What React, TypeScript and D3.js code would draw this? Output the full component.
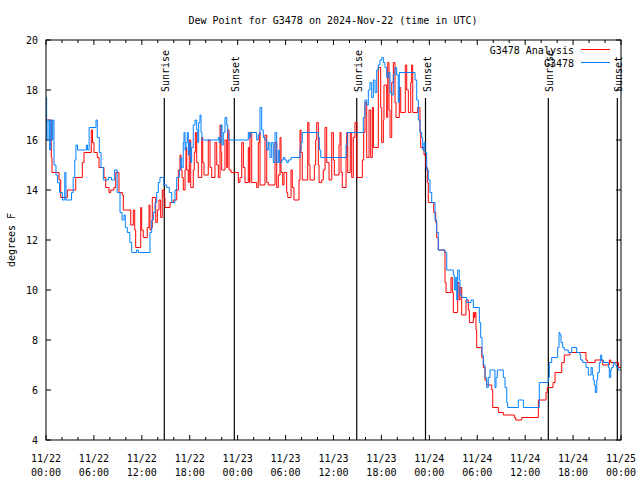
import React from "react";
import * as d3 from "d3";

const redHours = [
  0, 0.66, 0.75, 1.63, 1.84, 2.67, 3.72, 4.55, 4.76, 5.67,
  5.82, 6.01, 6.42, 6.64, 7.26, 7.48, 7.89, 8.10, 8.51, 8.73,
  9.14, 9.55, 9.68, 10.61, 10.93, 11.11, 11.23, 11.86, 11.98, 12.18,
  12.68, 12.90, 13.02, 13.19, 13.31, 13.74, 13.94, 14.15, 14.36, 14.56,
  14.78, 14.90, 15.53, 15.94, 16.37, 16.57, 16.78, 16.90, 17.03, 17.19,
  17.41, 17.53, 17.62, 17.82, 17.94, 18.12, 18.44, 18.57, 18.70, 18.87,
  19.07, 19.50, 19.62, 19.78, 20.32, 20.54, 20.75, 21.16, 21.38, 21.58,
  21.79, 21.91, 22.00, 22.41, 22.63, 22.75, 22.92, 23.17, 24.08, 24.29,
  24.51, 24.71, 24.92, 25.33, 25.46, 25.54, 25.76, 26.38, 26.58, 26.71,
  26.80, 27.42, 27.64, 27.84, 28.68, 28.89, 29.09, 29.30, 29.43, 29.64,
  29.80, 30.14, 30.27, 30.68, 30.84, 31.05, 31.68, 31.81, 31.93, 32.09,
  32.77, 32.93, 33.06, 33.60, 33.77, 33.90, 34.10, 34.19, 34.52, 34.72,
  34.94, 35.15, 35.44, 35.78, 35.98, 36.10, 36.69, 36.81, 36.94, 37.10,
  37.57, 37.65, 37.78, 38.10, 38.28, 38.48, 38.69, 38.94, 39.61, 39.78,
  39.94, 40.16, 40.45, 40.66, 40.86, 41.00, 41.61, 41.91, 42.04, 42.24,
  42.32, 42.66, 42.79, 42.95, 43.08, 43.29, 43.49, 43.70, 43.83, 44.24,
  44.42, 44.99, 45.17, 45.37, 45.67, 45.79, 45.92, 46.54, 46.83, 46.92,
  47.33, 47.58, 47.75, 47.87, 48.55, 48.80, 48.92, 49.12, 49.96, 50.09,
  50.71, 50.88, 51.00, 51.55, 51.72, 51.84, 52.05, 52.59, 52.88, 53.01,
  53.51, 53.63, 53.72, 53.84, 53.93, 54.56, 54.76, 54.97, 55.18, 55.81,
  55.94, 56.64, 57.26, 58.64, 58.82, 59.57, 61.65, 62.61, 62.77, 63.49,
  63.74, 64.58, 64.90, 65.61, 67.62, 67.78, 68.75, 69.71, 70.54, 70.71,
  71.70, 72,
];
const redValues = [
  16.8, 15.3, 14.7, 14.4, 13.7, 14.0, 14.5, 15.1, 15.5, 16.4,
  15.9, 15.5, 15.3, 14.9, 14.5, 14.1, 13.9, 14.0, 14.1, 14.7,
  13.9, 13.8, 13.2, 12.6, 13.2, 12.4, 11.7, 13.3, 12.4, 12.1,
  12.5, 13.4, 12.4, 12.5, 13.7, 12.7, 13.2, 13.6, 12.9, 14.0,
  13.7, 13.3, 13.5, 13.6, 14.0, 14.8, 15.4, 14.8, 14.5, 14.0,
  14.8, 15.7, 14.8, 14.3, 16.0, 14.1, 14.8, 15.5, 16.3, 15.1,
  14.5, 16.1, 15.1, 14.6, 16.0, 14.9, 14.5, 15.9, 15.0, 14.5,
  16.6, 15.5, 14.8, 16.0, 14.9, 16.4, 14.8, 14.7, 14.3, 14.5,
  15.9, 14.9, 14.3, 15.7, 14.3, 16.3, 14.3, 14.1, 15.9, 16.3,
  14.2, 16.2, 14.3, 14.2, 15.9, 14.1, 14.6, 16.1, 14.7, 14.2,
  14.7, 13.9, 13.7, 14.8, 14.1, 13.6, 14.4, 16.4, 15.5, 14.4,
  16.7, 15.0, 14.4, 15.0, 16.0, 16.7, 15.0, 14.3, 14.4, 14.8,
  16.5, 15.1, 14.4, 16.3, 15.2, 14.6, 15.8, 16.3, 14.7, 14.1,
  15.3, 16.3, 14.7, 16.3, 14.5, 16.1, 16.7, 14.5, 15.2, 16.3,
  17.5, 15.3, 17.2, 15.3, 17.3, 15.7, 18.9, 17.3, 15.9, 16.8,
  18.2, 16.9, 19.1, 17.2, 16.1, 18.3, 19.1, 17.5, 16.9, 18.1,
  17.1, 19.0, 18.0, 17.1, 18.3, 19.0, 17.1, 17.3, 16.3, 15.7,
  15.4, 14.9, 14.3, 13.5, 13.1, 12.7, 12.1, 11.6, 10.3, 9.9,
  10.5, 9.9, 9.1, 10.3, 9.6, 10.1, 9.0, 9.6, 9.2, 8.7,
  9.1, 8.9, 9.1, 8.4, 7.7, 7.3, 6.9, 6.4, 6.2, 6.0,
  5.3, 5.1, 5.0, 4.9, 4.8, 4.9, 5.6, 5.9, 6.1, 6.3,
  6.7, 7.1, 7.4, 7.5, 7.2, 7.1, 7.2, 7.0, 7.2, 7.1,
  6.9, 6.9,
];

const blueHours = [
  0, 0.08, 0.25, 0.45, 0.60, 0.75, 0.85, 1.00, 1.25, 1.45,
  1.70, 2.05, 2.35, 2.50, 3.20, 3.40, 3.60, 3.75, 3.95, 5.05,
  5.20, 5.40, 6.26, 6.42, 6.67, 6.89, 7.18, 7.80, 8.20, 8.60,
  8.91, 9.27, 9.52, 9.77, 9.93, 10.18, 10.50, 10.73, 11.35, 11.56,
  13.02, 13.24, 13.44, 13.65, 13.86, 14.06, 14.27, 14.75, 15.11, 15.44,
  15.74, 16.15, 16.37, 16.69, 16.87, 16.99, 17.19, 17.28, 17.41, 17.53,
  17.69, 17.82, 17.94, 18.12, 18.24, 18.44, 18.66, 18.87, 19.00, 19.12,
  19.28, 19.41, 19.53, 21.58, 21.70, 21.91, 22.04, 22.20, 22.41, 22.63,
  22.75, 22.88, 25.33, 25.46, 25.63, 26.38, 26.58, 26.80, 27.01, 27.21,
  27.42, 27.64, 27.84, 28.05, 28.26, 28.46, 28.68, 28.89, 29.09, 29.21,
  29.51, 29.71, 29.93, 30.14, 30.34, 30.68, 31.81, 31.93, 32.09, 34.10,
  34.23, 34.40, 37.44, 37.57, 37.73, 39.73, 39.94, 40.16, 40.36, 40.57,
  40.78, 40.99, 41.20, 41.41, 41.61, 41.82, 42.04, 42.24, 42.45, 42.66,
  42.86, 43.08, 43.29, 43.49, 43.70, 43.91, 44.11, 44.24, 46.21, 46.42,
  46.62, 46.83, 47.04, 47.17, 47.33, 47.46, 47.67, 47.87, 48.08, 48.30,
  48.71, 48.92, 49.12, 49.96, 50.18, 50.80, 51.00, 51.13, 51.30, 51.43,
  51.55, 51.75, 51.84, 52.05, 52.68, 53.22, 53.51, 54.26, 54.43, 54.60,
  54.76, 54.97, 55.18, 55.38, 55.60, 56.10, 56.22, 56.35, 56.51, 57.06,
  57.26, 57.48, 57.69, 57.81, 59.14, 59.77, 61.77, 62.90, 63.02, 63.32,
  64.07, 64.24, 64.36, 64.49, 64.70, 64.90, 65.40, 65.83, 66.45, 66.87,
  66.95, 67.21, 67.62, 67.91, 68.25, 68.41, 68.53, 68.66, 68.78, 68.96,
  69.08, 69.28, 69.46, 69.58, 69.79, 70.42, 70.54, 70.71, 70.83, 71.03,
  71.25, 71.46, 71.66, 72,
];
const blueValues = [
  17.7, 16.0, 16.8, 15.6, 16.8, 16.0, 16.8, 15.0, 14.6, 14.3,
  13.9, 13.6, 14.7, 13.6, 13.9, 14.5, 15.2, 15.8, 15.6, 15.8,
  15.6, 16.5, 16.8, 16.1, 15.5, 14.9, 14.4, 14.5, 14.4, 14.8,
  13.9, 13.1, 12.8, 13.0, 12.5, 12.3, 11.9, 11.5, 11.6, 11.5,
  12.3, 12.8, 13.1, 13.5, 13.9, 14.3, 14.5, 14.2, 14.1, 13.9,
  13.5, 14.0, 14.5, 14.8, 15.3, 14.9, 15.9, 16.3, 15.6, 15.9,
  16.3, 15.4, 15.9, 15.1, 15.7, 16.6, 16.8, 16.4, 15.9, 16.7,
  17.0, 16.3, 16.0, 16.1, 15.9, 16.6, 15.8, 16.3, 16.9, 16.6,
  16.3, 16.0, 16.3, 16.1, 16.3, 16.0, 16.2, 17.3, 16.4, 16.1,
  16.0, 15.6, 15.9, 15.3, 15.9, 15.1, 16.3, 15.1, 15.6, 15.1,
  15.2, 15.3, 15.2, 15.1, 15.2, 15.3, 15.6, 15.9, 16.3, 16.1,
  15.6, 15.3, 15.3, 15.8, 16.3, 16.9, 17.6, 17.4, 18.0, 18.3,
  17.7, 18.4, 17.9, 18.8, 19.0, 19.2, 19.3, 19.1, 18.9, 18.5,
  18.7, 17.9, 17.8, 18.6, 18.9, 18.6, 17.5, 18.7, 18.4, 17.6,
  16.8, 16.3, 16.1, 15.6, 15.9, 15.5, 14.8, 14.4, 13.9, 13.5,
  12.8, 12.3, 11.6, 11.5, 10.8, 10.8, 10.6, 10.0, 10.5, 9.6,
  10.8, 10.4, 9.8, 9.7, 9.5, 9.6, 9.3, 8.7, 8.1, 7.4,
  7.0, 6.5, 6.1, 6.5, 6.8, 6.8, 6.1, 6.5, 6.8, 6.8,
  6.5, 6.1, 5.5, 5.3, 5.6, 5.3, 6.3, 6.5, 7.1, 7.3,
  7.7, 8.3, 8.2, 7.9, 7.7, 7.6, 7.5, 7.7, 7.5, 7.4,
  7.2, 7.1, 6.9, 6.6, 6.9, 6.6, 6.4, 6.2, 5.9, 6.4,
  6.7, 7.1, 7.4, 7.2, 7.1, 6.9, 6.5, 6.8, 6.9, 7.1,
  7.0, 6.9, 6.8, 6.8,
];

const yTicks = [4, 6, 8, 10, 12, 14, 16, 18, 20];
const xTickHours = [0, 6, 12, 18, 24, 30, 36, 42, 48, 54, 60, 66, 72];
const xTickDates = ["11/22", "11/22", "11/22", "11/22", "11/23", "11/23", "11/23", "11/23", "11/24", "11/24", "11/24", "11/24", "11/25"];
const xTickTimes = ["00:00", "06:00", "12:00", "18:00", "00:00", "06:00", "12:00", "18:00", "00:00", "06:00", "12:00", "18:00", "00:00"];
const sunHours = [14.81, 23.58, 38.91, 47.52, 62.9, 71.54];
const sunLabels = ["Sunrise", "Sunset", "Sunrise", "Sunset", "Sunrise", "Sunset"];
const seriesNames = ["G3478 Analysis", "G3478"];
const seriesColors = ["#ff0000", "#0080ff"];
const title = "Dew Point for G3478 on 2024-Nov-22 (time in UTC)";
const yLabel = "degrees F";

const L = 46, R = 621, T = 40, B = 440;
const FONT = "'DejaVu Sans Mono', monospace";

export default function App() {
  const x = d3.scaleLinear().domain([0, 72]).range([L, R]);
  const y = d3.scaleLinear().domain([4, 20]).range([B, T]);
  const line = d3
    .line<[number, number]>()
    .x((d) => x(d[0]))
    .y((d) => y(d[1]))
    .curve(d3.curveStepAfter);
  const red: [number, number][] = redHours.map((h, i) => [h, redValues[i]]);
  const blue: [number, number][] = blueHours.map((h, i) => [h, blueValues[i]]);
  const minorHours = d3.range(0, 73, 2).filter((h) => h % 6 !== 0);

  return (
    <svg
      width={640}
      height={480}
      style={{ position: "absolute", left: 0, top: 0, background: "#fff" }}
      fontFamily={FONT}
      fontSize={10}
    >
      <rect x={0} y={0} width={640} height={480} fill="#fff" />
      <text x={333} y={24} textAnchor="middle" fill="#000">{title}</text>
      <text transform={`translate(15,${(T + B) / 2}) rotate(-90)`} textAnchor="middle" fill="#000">{yLabel}</text>

      {yTicks.map((v) => (
        <g key={"y" + v}>
          <line x1={L} x2={L + 5} y1={y(v)} y2={y(v)} stroke="#000" />
          <line x1={R - 5} x2={R} y1={y(v)} y2={y(v)} stroke="#000" />
          <text x={38} y={y(v) + 4} textAnchor="end" fill="#000">{v}</text>
        </g>
      ))}
      {xTickHours.map((h, i) => (
        <g key={"x" + h}>
          <line x1={x(h)} x2={x(h)} y1={B} y2={B - 5} stroke="#000" />
          <line x1={x(h)} x2={x(h)} y1={T} y2={T + 5} stroke="#000" />
          <text x={x(h)} y={462} textAnchor="middle" fill="#000">{xTickDates[i]}</text>
          <text x={x(h)} y={476} textAnchor="middle" fill="#000">{xTickTimes[i]}</text>
        </g>
      ))}
      {minorHours.map((h) => (
        <g key={"m" + h}>
          <line x1={x(h)} x2={x(h)} y1={B} y2={B - 3} stroke="#000" />
          <line x1={x(h)} x2={x(h)} y1={T} y2={T + 3} stroke="#000" />
        </g>
      ))}

      {sunHours.map((h, i) => (
        <g key={"s" + i}>
          <line x1={x(h)} x2={x(h)} y1={98} y2={B} stroke="#000" strokeWidth={1.2} />
          <text transform={`translate(${x(h) + 5},92) rotate(-90)`} textAnchor="start" fill="#000">{sunLabels[i]}</text>
        </g>
      ))}

      <path d={line(red) || ""} fill="none" stroke={seriesColors[0]} strokeWidth={1} />
      <path d={line(blue) || ""} fill="none" stroke={seriesColors[1]} strokeWidth={1} />

      <rect x={L} y={T} width={R - L} height={B - T} fill="none" stroke="#000" strokeWidth={1} />

      {seriesNames.map((n, i) => (
        <g key={"l" + i}>
          <text x={574} y={53.5 + i * 13} textAnchor="end" fill="#000">{n}</text>
          <line x1={581} x2={610} y1={49.5 + i * 13} y2={49.5 + i * 13} stroke={seriesColors[i]} strokeWidth={1} />
        </g>
      ))}
    </svg>
  );
}
